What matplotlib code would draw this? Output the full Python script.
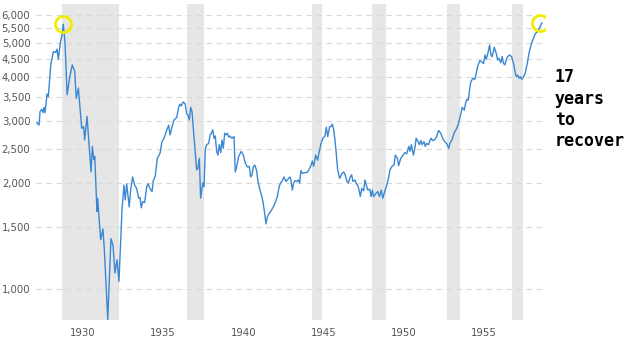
import matplotlib
matplotlib.use("Agg")
import matplotlib.pyplot as plt
from matplotlib.ticker import FixedLocator, NullLocator

# ---- data (decimal year, inflation-adjusted Dow) ----
years = [1928.02, 1928.17, 1928.23, 1928.34, 1928.42, 1928.48, 1928.54, 1928.67, 1928.75, 1928.90,
         1929.06, 1929.21, 1929.29, 1929.37, 1929.49, 1929.62, 1929.68, 1929.79, 1929.92, 1930.08,
         1930.24, 1930.39, 1930.49, 1930.62, 1930.83, 1930.95, 1931.01, 1931.16, 1931.41, 1931.49,
         1931.58, 1931.64, 1931.78, 1931.82, 1932.01, 1932.15, 1932.24, 1932.45, 1932.65, 1932.78,
         1932.90, 1933.03, 1933.15, 1933.26, 1933.34, 1933.46, 1933.54, 1933.63, 1933.79, 1933.88,
         1934.00, 1934.13, 1934.25, 1934.38, 1934.46, 1934.54, 1934.63, 1934.75, 1934.88, 1934.96,
         1935.08, 1935.21, 1935.29, 1935.41, 1935.54, 1935.71, 1935.83, 1935.96, 1936.12, 1936.25,
         1936.33, 1936.46, 1936.58, 1936.75, 1936.87, 1936.95, 1937.03, 1937.16, 1937.28, 1937.37,
         1937.45, 1937.53, 1937.62, 1937.70, 1937.87, 1937.99, 1938.07, 1938.16, 1938.24, 1938.37,
         1938.45, 1938.53, 1938.62, 1938.74, 1938.83, 1938.91, 1939.00, 1939.07, 1939.15, 1939.24,
         1939.32, 1939.40, 1939.49, 1939.57, 1939.65, 1939.74, 1939.82, 1939.90, 1939.99, 1940.07,
         1940.19, 1940.32, 1940.40, 1940.49, 1940.61, 1940.77, 1940.90, 1941.02, 1941.15, 1941.27,
         1941.36, 1941.44, 1941.52, 1941.61, 1941.73, 1941.81, 1941.94, 1942.06, 1942.14, 1942.23,
         1942.31, 1942.39, 1942.52, 1942.64, 1942.77, 1942.89, 1943.02, 1943.14, 1943.23, 1943.35,
         1943.43, 1943.56, 1943.68, 1943.81, 1943.87, 1943.95, 1944.04, 1944.12, 1944.24, 1944.32,
         1944.41, 1944.49, 1944.57, 1944.70, 1944.86, 1944.99, 1945.11, 1945.20, 1945.28, 1945.41,
         1945.53, 1945.61, 1945.74, 1945.86, 1945.99, 1946.07, 1946.16, 1946.28, 1946.36, 1946.44,
         1946.53, 1946.61, 1946.69, 1946.78, 1946.90, 1947.03, 1947.15, 1947.23, 1947.36, 1947.44,
         1947.56, 1947.65, 1947.73, 1947.86, 1947.94, 1948.03, 1948.11, 1948.19, 1948.28, 1948.40,
         1948.48, 1948.57, 1948.65, 1948.78, 1948.86, 1948.94, 1949.02, 1949.17, 1949.29, 1949.38,
         1949.50, 1949.59, 1949.71, 1949.84, 1949.96, 1950.04, 1950.17, 1950.29, 1950.37, 1950.50,
         1950.58, 1950.71, 1950.83, 1950.96, 1951.08, 1951.21, 1951.29, 1951.37, 1951.50, 1951.59,
         1951.67, 1951.79, 1951.87, 1951.96, 1952.04, 1952.16, 1952.24, 1952.32, 1952.45, 1952.53,
         1952.61, 1952.69, 1952.82, 1952.95, 1953.07, 1953.20, 1953.32, 1953.45, 1953.57, 1953.70,
         1953.78, 1953.90, 1954.03, 1954.15, 1954.28, 1954.40, 1954.46, 1954.54, 1954.67, 1954.75,
         1954.84, 1954.92, 1955.00, 1955.08, 1955.21, 1955.33, 1955.41, 1955.50, 1955.63, 1955.75,
         1955.87, 1955.96, 1956.04, 1956.16, 1956.25, 1956.33, 1956.41, 1956.54, 1956.66, 1956.75,
         1956.83, 1956.95, 1957.03, 1957.12, 1957.20, 1957.28, 1957.37, 1957.49, 1957.62, 1957.74,
         1957.83, 1957.91, 1957.99, 1958.08, 1958.16, 1958.25, 1958.37, 1958.46, 1958.58, 1958.71,
         1958.83, 1958.96, 1959.08, 1959.22, 1959.30, 1959.38, 1959.51]

dow = [2970, 2920, 3190, 3240, 3170, 3280, 3170, 3580, 3520, 4330,
       4720, 4700, 4800, 4490, 4990, 5320, 5650, 4990, 3560, 3990,
       4330, 4160, 3480, 3720, 2860, 2890, 2650, 3090, 2150, 2540,
       2330, 2380, 1660, 1810, 1380, 1480, 1290, 818, 1390, 1330,
       1110, 1210, 1050, 1390, 1680, 1970, 1790, 1990, 1710, 1910,
       2080, 1970, 1930, 1810, 1820, 1700, 1770, 1760, 1950, 1990,
       1930, 1890, 2030, 2090, 2350, 2430, 2620, 2680, 2820, 2920,
       2740, 2890, 3020, 3070, 3280, 3350, 3310, 3400, 3350, 3140,
       3120, 3020, 3280, 3190, 2540, 2180, 2200, 2350, 1810, 2000,
       1950, 2500, 2570, 2590, 2740, 2770, 2830, 2680, 2720, 2460,
       2400, 2570, 2440, 2650, 2510, 2770, 2740, 2770, 2700, 2720,
       2680, 2710, 2150, 2230, 2380, 2460, 2400, 2280, 2220, 2230,
       2080, 2110, 2220, 2250, 2170, 2020, 1910, 1830, 1750, 1640,
       1530, 1600, 1640, 1670, 1710, 1760, 1830, 1960, 2000, 2040,
       2080, 2020, 2050, 2080, 2040, 1910, 2000, 2030, 2020, 2040,
       2000, 2170, 2130, 2140, 2140, 2180, 2240, 2310, 2230, 2400,
       2320, 2430, 2590, 2680, 2720, 2880, 2710, 2890, 2890, 2940,
       2840, 2650, 2430, 2180, 2060, 2120, 2150, 2120, 2020, 2000,
       2080, 2110, 2020, 2040, 1990, 1970, 1910, 1830, 1930, 1900,
       2040, 1970, 1910, 1920, 1830, 1910, 1830, 1870, 1890, 1830,
       1910, 1810, 1890, 1970, 2080, 2180, 2230, 2250, 2400, 2350,
       2240, 2350, 2390, 2440, 2420, 2540, 2460, 2570, 2400, 2510,
       2680, 2620, 2570, 2640, 2570, 2620, 2540, 2590, 2570, 2650,
       2680, 2640, 2650, 2710, 2820, 2770, 2680, 2620, 2590, 2510,
       2600, 2650, 2770, 2830, 2920, 3070, 3150, 3280, 3220, 3370,
       3460, 3440, 3680, 3880, 3970, 3940, 4100, 4280, 4450, 4420,
       4370, 4620, 4490, 4720, 4930, 4620, 4570, 4860, 4670, 4470,
       4520, 4390, 4570, 4370, 4330, 4470, 4570, 4620, 4570, 4370,
       4140, 4010, 4050, 3970, 4010, 3940, 4010, 4100, 4330, 4690,
       4940, 5120, 5300, 5380, 5440, 5540, 5700]

recession_starts = [1929.60, 1937.40, 1945.15, 1948.90, 1953.59, 1957.64]
recession_ends = [1933.15, 1938.45, 1945.80, 1949.77, 1954.42, 1958.30]

y_ticks = [1000, 1500, 2000, 2500, 3000, 3500, 4000, 4500, 5000, 5500, 6000]
x_tick_years = [1930, 1935, 1940, 1945, 1950, 1955]

highlight_years = [1929.68, 1959.40]
highlight_values = [5650, 5680]

annotation = "17\nyears\nto\nrecover"

# ---- figure ----
fig = plt.figure(figsize=(6.4, 3.6), dpi=100)
ax = fig.add_axes([36 / 640, 1 - 320 / 360, (545 - 36) / 640, (320 - 4) / 360])

for s, e in zip(recession_starts, recession_ends):
    ax.axvspan(s, e, color="#e6e6e6", lw=0, zorder=0)

ax.plot(years, dow, color="#3a87d3", lw=1.0, zorder=3)

ax.plot(highlight_years, highlight_values, ls="none", marker="o", ms=11.5,
        mfc="none", mec="#f2ec00", mew=2.0, zorder=4)

ax.set_yscale("log")
ax.set_ylim(816, 6450)
ax.set_xlim(1927.98, 1959.70)

ax.yaxis.set_major_locator(FixedLocator(y_ticks))
ax.yaxis.set_minor_locator(NullLocator())
ax.set_yticklabels([f"{v:,}" for v in y_ticks])
label_offset = 0.9
ax.set_xticks([y + label_offset for y in x_tick_years])
ax.set_xticklabels([str(y) for y in x_tick_years])
ax.xaxis.set_minor_locator(NullLocator())

ax.tick_params(axis="both", length=0, labelsize=7.3, colors="#555555")
ax.tick_params(axis="y", pad=4)
ax.tick_params(axis="x", pad=6)

ax.yaxis.grid(True, color="#d9d9d9", lw=0.8, ls=(0, (5, 4)), zorder=1)
ax.xaxis.grid(False)
ax.set_axisbelow(True)
for sp in ax.spines.values():
    sp.set_visible(False)

fig.text(555 / 640, 1 - 68 / 360, annotation, ha="left", va="top",
         family="DejaVu Sans Mono", fontweight="bold", fontsize=12,
         linespacing=1.25, color="black")

fig.savefig("out.png", dpi=100)
